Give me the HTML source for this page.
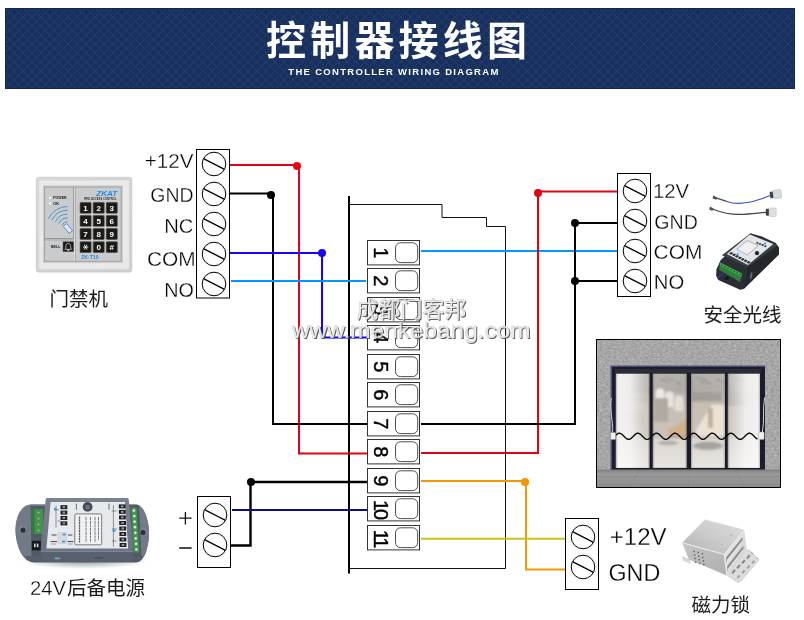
<!DOCTYPE html>
<html><head><meta charset="utf-8"><title>Controller wiring diagram</title>
<style>html,body{margin:0;padding:0;background:#fff}svg{display:block}</style></head>
<body><svg width="804" height="620" viewBox="0 0 804 620">
<g opacity="0.999">
<defs>
<pattern id="hatch" width="9" height="9" patternUnits="userSpaceOnUse" x="5" y="8">
<rect width="9" height="9" fill="#18305d"/>
<path d="M-1 1L1 -1M0 9L9 0M8 10L10 8M-1 8L1 10M0 0L9 9M8 -1L10 1" stroke="#253c6c" stroke-width="1"/>
</pattern>
</defs>
<rect x="5" y="8" width="790" height="81" fill="url(#hatch)"/>
<rect x="5.500" y="8.500" width="789" height="80" fill="none" stroke="#14284f" stroke-width="1"/>
<text x="266" y="54.500" font-family="Liberation Sans, Noto Sans CJK SC, sans-serif" font-size="40" font-weight="bold" fill="#fff" letter-spacing="4.200">控制器接线图</text>
<text x="394" y="75" font-family="Liberation Sans, sans-serif" font-size="9.5" font-weight="bold" fill="#fff" text-anchor="middle" letter-spacing="1.3">THE CONTROLLER WIRING DIAGRAM</text>
<path d="M349 196L349 573.5" fill="none" stroke="#000" stroke-width="2" stroke-linejoin="miter"/>
<path d="M349 204.5L442 204.5L442 217.5L486.5 217.5L486.5 226.5L505.5 226.5L505.5 568.5L349 568.5" fill="none" stroke="#111" stroke-width="1" stroke-linejoin="miter"/>
<path d="M230 165L299 165L299 453.5L367 453.5" fill="none" stroke="#e60012" stroke-width="2" stroke-linejoin="miter"/>
<circle cx="297" cy="166" r="4" fill="#e60012"/>
<path d="M230 193.5L273 193.5L273 424L367 424" fill="none" stroke="#000" stroke-width="2" stroke-linejoin="miter"/>
<circle cx="271" cy="195" r="4" fill="#000"/>
<path d="M230 253L322 253L322 337.5L367 337.5" fill="none" stroke="#1400ff" stroke-width="2" stroke-linejoin="miter"/>
<circle cx="322" cy="253" r="4" fill="#1400ff"/>
<path d="M231 281L366 281" fill="none" stroke="#0096ff" stroke-width="2" stroke-linejoin="miter"/>
<path d="M421 251L617 251" fill="none" stroke="#0096ff" stroke-width="2" stroke-linejoin="miter"/>
<path d="M617 191.5L538 191.5L538 453L421 453" fill="none" stroke="#e60012" stroke-width="2" stroke-linejoin="miter"/>
<circle cx="538" cy="193" r="4" fill="#e60012"/>
<path d="M617 223L575 223" fill="none" stroke="#000" stroke-width="2" stroke-linejoin="miter"/>
<path d="M617 281L575 281" fill="none" stroke="#000" stroke-width="2" stroke-linejoin="miter"/>
<path d="M575 222L575 424L421 424" fill="none" stroke="#000" stroke-width="2" stroke-linejoin="miter"/>
<circle cx="575" cy="223" r="4" fill="#000"/>
<circle cx="575" cy="281" r="4" fill="#000"/>
<path d="M367 482L251 482" fill="none" stroke="#000" stroke-width="2.4" stroke-linejoin="miter"/>
<path d="M250.5 482L250.5 545.5L231 545.5" fill="none" stroke="#000" stroke-width="2.4" stroke-linejoin="miter"/>
<circle cx="251" cy="482" r="4" fill="#000"/>
<path d="M232 510L367 510" fill="none" stroke="#0c0c8c" stroke-width="1.8" stroke-linejoin="miter"/>
<path d="M421 481L526 481L526 569.5L565 569.5" fill="none" stroke="#f39800" stroke-width="2" stroke-linejoin="miter"/>
<circle cx="525" cy="482" r="4" fill="#f39800"/>
<path d="M421 538.8L565 538.8" fill="none" stroke="#c9c31a" stroke-width="2" stroke-linejoin="miter"/>
<rect x="196.500" y="149.500" width="33.000" height="148.500" fill="#fff" stroke="#000" stroke-width="1"/>
<circle cx="214" cy="164" r="11.8" fill="#fff" stroke="#000" stroke-width="1"/>
<path d="M203.5 158.6L224.5 169.4" stroke="#000" stroke-width="1.2"/>
<circle cx="214" cy="194" r="11.8" fill="#fff" stroke="#000" stroke-width="1"/>
<path d="M203.5 188.6L224.5 199.4" stroke="#000" stroke-width="1.2"/>
<circle cx="214" cy="224" r="11.8" fill="#fff" stroke="#000" stroke-width="1"/>
<path d="M203.5 218.6L224.5 229.4" stroke="#000" stroke-width="1.2"/>
<circle cx="214" cy="254" r="11.8" fill="#fff" stroke="#000" stroke-width="1"/>
<path d="M203.5 248.6L224.5 259.4" stroke="#000" stroke-width="1.2"/>
<circle cx="214" cy="284" r="11.8" fill="#fff" stroke="#000" stroke-width="1"/>
<path d="M203.5 278.6L224.5 289.4" stroke="#000" stroke-width="1.2"/>
<rect x="617.500" y="173.500" width="33.000" height="123.000" fill="#fff" stroke="#000" stroke-width="1"/>
<circle cx="635" cy="191" r="11.8" fill="#fff" stroke="#000" stroke-width="1"/>
<path d="M624.5 185.6L645.5 196.4" stroke="#000" stroke-width="1.2"/>
<circle cx="635" cy="221" r="11.8" fill="#fff" stroke="#000" stroke-width="1"/>
<path d="M624.5 215.6L645.5 226.4" stroke="#000" stroke-width="1.2"/>
<circle cx="635" cy="251" r="11.8" fill="#fff" stroke="#000" stroke-width="1"/>
<path d="M624.5 245.6L645.5 256.4" stroke="#000" stroke-width="1.2"/>
<circle cx="635" cy="281" r="11.8" fill="#fff" stroke="#000" stroke-width="1"/>
<path d="M624.5 275.6L645.5 286.4" stroke="#000" stroke-width="1.2"/>
<rect x="197.500" y="496.500" width="33.000" height="71.000" fill="#fff" stroke="#000" stroke-width="1"/>
<circle cx="215" cy="515" r="11.8" fill="#fff" stroke="#000" stroke-width="1"/>
<path d="M204.5 509.6L225.5 520.4" stroke="#000" stroke-width="1.2"/>
<circle cx="215" cy="545" r="11.8" fill="#fff" stroke="#000" stroke-width="1"/>
<path d="M204.5 539.6L225.5 550.4" stroke="#000" stroke-width="1.2"/>
<rect x="565.500" y="518.500" width="33.000" height="71.000" fill="#fff" stroke="#000" stroke-width="1"/>
<circle cx="583" cy="537" r="11.8" fill="#fff" stroke="#000" stroke-width="1"/>
<path d="M572.5 531.6L593.5 542.4" stroke="#000" stroke-width="1.2"/>
<circle cx="583" cy="567" r="11.8" fill="#fff" stroke="#000" stroke-width="1"/>
<path d="M572.5 561.6L593.5 572.4" stroke="#000" stroke-width="1.2"/>
<rect x="367.500" y="240.500" width="52" height="24.400" fill="#fff" stroke="#333" stroke-width="1"/>
<rect x="395.500" y="242.800" width="22.200" height="19.800" rx="5" fill="#fff" stroke="#3a3a3a" stroke-width="0.9"/>
<text transform="translate(380.600 252.900) rotate(90)" x="0" y="6.900" text-anchor="middle" font-family="Liberation Sans, sans-serif" font-size="20" fill="#000" stroke="#000" stroke-width="0.4">1</text>
<rect x="367.500" y="268.500" width="52" height="24.400" fill="#fff" stroke="#333" stroke-width="1"/>
<rect x="395.500" y="270.800" width="22.200" height="19.800" rx="5" fill="#fff" stroke="#3a3a3a" stroke-width="0.9"/>
<text transform="translate(380.600 280.900) rotate(90)" x="0" y="6.900" text-anchor="middle" font-family="Liberation Sans, sans-serif" font-size="20" fill="#000" stroke="#000" stroke-width="0.4">2</text>
<rect x="367.500" y="297.500" width="52" height="24.400" fill="#fff" stroke="#333" stroke-width="1"/>
<rect x="395.500" y="299.800" width="22.200" height="19.800" rx="5" fill="#fff" stroke="#3a3a3a" stroke-width="0.9"/>
<text transform="translate(380.600 309.900) rotate(90)" x="0" y="6.900" text-anchor="middle" font-family="Liberation Sans, sans-serif" font-size="20" fill="#000" stroke="#000" stroke-width="0.4">3</text>
<rect x="367.500" y="325.500" width="52" height="24.400" fill="#fff" stroke="#333" stroke-width="1"/>
<rect x="395.500" y="327.800" width="22.200" height="19.800" rx="5" fill="#fff" stroke="#3a3a3a" stroke-width="0.9"/>
<text transform="translate(380.600 337.900) rotate(90)" x="0" y="6.900" text-anchor="middle" font-family="Liberation Sans, sans-serif" font-size="20" fill="#000" stroke="#000" stroke-width="0.4">4</text>
<rect x="367.500" y="354.500" width="52" height="24.400" fill="#fff" stroke="#333" stroke-width="1"/>
<rect x="395.500" y="356.800" width="22.200" height="19.800" rx="5" fill="#fff" stroke="#3a3a3a" stroke-width="0.9"/>
<text transform="translate(380.600 366.900) rotate(90)" x="0" y="6.900" text-anchor="middle" font-family="Liberation Sans, sans-serif" font-size="20" fill="#000" stroke="#000" stroke-width="0.4">5</text>
<rect x="367.500" y="382.500" width="52" height="24.400" fill="#fff" stroke="#333" stroke-width="1"/>
<rect x="395.500" y="384.800" width="22.200" height="19.800" rx="5" fill="#fff" stroke="#3a3a3a" stroke-width="0.9"/>
<text transform="translate(380.600 394.900) rotate(90)" x="0" y="6.900" text-anchor="middle" font-family="Liberation Sans, sans-serif" font-size="20" fill="#000" stroke="#000" stroke-width="0.4">6</text>
<rect x="367.500" y="411.500" width="52" height="24.400" fill="#fff" stroke="#333" stroke-width="1"/>
<rect x="395.500" y="413.800" width="22.200" height="19.800" rx="5" fill="#fff" stroke="#3a3a3a" stroke-width="0.9"/>
<text transform="translate(380.600 423.900) rotate(90)" x="0" y="6.900" text-anchor="middle" font-family="Liberation Sans, sans-serif" font-size="20" fill="#000" stroke="#000" stroke-width="0.4">7</text>
<rect x="367.500" y="439.500" width="52" height="24.400" fill="#fff" stroke="#333" stroke-width="1"/>
<rect x="395.500" y="441.800" width="22.200" height="19.800" rx="5" fill="#fff" stroke="#3a3a3a" stroke-width="0.9"/>
<text transform="translate(380.600 451.900) rotate(90)" x="0" y="6.900" text-anchor="middle" font-family="Liberation Sans, sans-serif" font-size="20" fill="#000" stroke="#000" stroke-width="0.4">8</text>
<rect x="367.500" y="468.500" width="52" height="24.400" fill="#fff" stroke="#333" stroke-width="1"/>
<rect x="395.500" y="470.800" width="22.200" height="19.800" rx="5" fill="#fff" stroke="#3a3a3a" stroke-width="0.9"/>
<text transform="translate(380.600 480.900) rotate(90)" x="0" y="6.900" text-anchor="middle" font-family="Liberation Sans, sans-serif" font-size="20" fill="#000" stroke="#000" stroke-width="0.4">9</text>
<rect x="367.500" y="496.500" width="52" height="24.400" fill="#fff" stroke="#333" stroke-width="1"/>
<rect x="395.500" y="498.800" width="22.200" height="19.800" rx="5" fill="#fff" stroke="#3a3a3a" stroke-width="0.9"/>
<text transform="translate(380.600 508.900) rotate(90)" x="0" y="6.900" text-anchor="middle" letter-spacing="-2.200" font-family="Liberation Sans, sans-serif" font-size="20" fill="#000" stroke="#000" stroke-width="0.4">10</text>
<rect x="367.500" y="525.500" width="52" height="24.400" fill="#fff" stroke="#333" stroke-width="1"/>
<rect x="395.500" y="527.800" width="22.200" height="19.800" rx="5" fill="#fff" stroke="#3a3a3a" stroke-width="0.9"/>
<text transform="translate(380.600 537.900) rotate(90)" x="0" y="6.900" text-anchor="middle" letter-spacing="-2.200" font-family="Liberation Sans, sans-serif" font-size="20" fill="#000" stroke="#000" stroke-width="0.4">11</text>
<g opacity="0.995">
<text transform="translate(144.790 167.900) scale(1.070 1)" font-family="Liberation Sans, sans-serif" font-size="19.3" letter-spacing="0.0" fill="#000" stroke="#fff" stroke-width="0.3">+12V</text>
<text transform="translate(150.320 202.200) scale(1.008 1)" font-family="Liberation Sans, sans-serif" font-size="19.3" letter-spacing="0.0" fill="#000" stroke="#fff" stroke-width="0.3">GND</text>
<text transform="translate(164.250 232.800) scale(1.045 1)" font-family="Liberation Sans, sans-serif" font-size="19.3" letter-spacing="-0.0" fill="#000" stroke="#fff" stroke-width="0.3">NC</text>
<text transform="translate(146.940 266.200) scale(1.083 1)" font-family="Liberation Sans, sans-serif" font-size="19.3" letter-spacing="0.0" fill="#000" stroke="#fff" stroke-width="0.3">COM</text>
<text transform="translate(164.280 296.700) scale(1.025 1)" font-family="Liberation Sans, sans-serif" font-size="19.3" letter-spacing="0.0" fill="#000" stroke="#fff" stroke-width="0.3">NO</text>
<text transform="translate(653.050 198.100) scale(1.052 1)" font-family="Liberation Sans, sans-serif" font-size="19.3" letter-spacing="-0.0" fill="#000" stroke="#fff" stroke-width="0.3">12V</text>
<text transform="translate(654.310 228.800) scale(1.015 1)" font-family="Liberation Sans, sans-serif" font-size="19.3" letter-spacing="0.0" fill="#000" stroke="#fff" stroke-width="0.3">GND</text>
<text transform="translate(653.540 259.200) scale(1.086 1)" font-family="Liberation Sans, sans-serif" font-size="19.3" letter-spacing="0.0" fill="#000" stroke="#fff" stroke-width="0.3">COM</text>
<text transform="translate(653.840 288.900) scale(1.051 1)" font-family="Liberation Sans, sans-serif" font-size="19.3" letter-spacing="0.0" fill="#000" stroke="#fff" stroke-width="0.3">NO</text>
<text transform="translate(29.880 594.500) scale(1.041 1)" font-family="Liberation Sans, sans-serif" font-size="19.5" letter-spacing="-0.0" fill="#000" stroke="#fff" stroke-width="0.3">24V</text>
<text transform="translate(609.720 545.400) scale(1.013 1)" font-family="Liberation Sans, sans-serif" font-size="23.8" letter-spacing="-0.0" fill="#000" stroke="#fff" stroke-width="0.3">+12V</text>
<text transform="translate(608.430 580.600) scale(0.981 1)" font-family="Liberation Sans, sans-serif" font-size="23.8" letter-spacing="0.0" fill="#000" stroke="#fff" stroke-width="0.3">GND</text>
</g>
<path d="M179.2 518.2H191.6M185.4 512V524.4M179.2 548H191.6" stroke="#111" stroke-width="1.3" fill="none"/>
<text x="49.500" y="305.700" font-family="Liberation Sans, Noto Sans CJK SC, sans-serif" font-size="19.500" fill="#1c1c1c">门禁机</text>
<text x="703.500" y="321.800" font-family="Liberation Sans, Noto Sans CJK SC, sans-serif" font-size="19.500" fill="#1c1c1c">安全光线</text>
<text x="67" y="595.200" font-family="Liberation Sans, Noto Sans CJK SC, sans-serif" font-size="19.500" fill="#1c1c1c">后备电源</text>
<text x="691.500" y="611.800" font-family="Liberation Sans, Noto Sans CJK SC, sans-serif" font-size="19.500" fill="#1c1c1c">磁力锁</text>
<g id="keypad">
<defs><linearGradient id="kp1" x1="0" y1="0" x2="1" y2="1"><stop offset="0" stop-color="#dadada"/><stop offset="1" stop-color="#cdcdcd"/></linearGradient></defs>
<rect x="36.300" y="177.300" width="95.500" height="94.800" rx="2.200" fill="url(#kp1)" stroke="#c9c9c9" stroke-width="0.8"/>
<rect x="38.800" y="180" width="90.600" height="89.400" rx="1" fill="#e9e9e9" stroke="#d0d0d0" stroke-width="0.6"/>
<rect x="43" y="185.200" width="80" height="78" fill="#d2d2d2"/>
<rect x="44.500" y="187" width="76.700" height="74.300" fill="#c9cbcc" stroke="#9b9b9b" stroke-width="0.9"/>
<path d="M73.6 187V238.6H44.6" fill="none" stroke="#8c8c8c" stroke-width="0.9"/>
<path d="M44.6 240H74.2" fill="none" stroke="#9a9a9a" stroke-width="0.7"/>
<path d="M75.3 187V261" fill="none" stroke="#9a9a9a" stroke-width="0.7"/>
<rect x="73.900" y="187.400" width="1.100" height="73.600" fill="#d8d9da"/>
<circle cx="50.1" cy="197.8" r="1.1" fill="#fff"/><circle cx="50.1" cy="203.4" r="1.1" fill="#fff"/>
<text x="53.2" y="199.2" font-family="Liberation Sans, sans-serif" font-size="3.6" font-weight="bold" fill="#222" textLength="13.4" lengthAdjust="spacingAndGlyphs">POWER</text>
<text x="53.2" y="204.8" font-family="Liberation Sans, sans-serif" font-size="3.6" font-weight="bold" fill="#222" textLength="5.8" lengthAdjust="spacingAndGlyphs">OK</text>
<path d="M48.5 218.6A21 21 0 0 1 67.5 206.5" fill="none" stroke="#4d93d6" stroke-width="1"/>
<path d="M51.9 220.2A17.2 17.2 0 0 1 67.5 210.3" fill="none" stroke="#4d93d6" stroke-width="1"/>
<path d="M55.4 221.8A13.4 13.4 0 0 1 67.5 214.1" fill="none" stroke="#4d93d6" stroke-width="1"/>
<path d="M58.8 223.4A9.6 9.6 0 0 1 67.5 217.9" fill="none" stroke="#4d93d6" stroke-width="1"/>
<path d="M62.2 225.0A5.8 5.8 0 0 1 67.5 221.7" fill="none" stroke="#4d93d6" stroke-width="1"/>
<path d="M63.2 226.3L66.6 223.6L72.6 230.6L69.2 233.3Z" fill="#dfe8f0" stroke="#3f86cf" stroke-width="0.9"/>
<text x="51" y="248.1" font-family="Liberation Sans, sans-serif" font-size="3.4" font-weight="bold" fill="#222" textLength="9.4" lengthAdjust="spacingAndGlyphs">BELL</text>
<rect x="63" y="241.800" width="10.600" height="9.800" fill="#1d1b18" stroke="#5a534a" stroke-width="0.5"/>
<path d="M68.3 243.4c-1.6 0-2.4 1.3-2.4 3v1.6l-1 1.3h6.8l-1-1.3v-1.6c0-1.7-.8-3-2.4-3zM67.4 249.8a.9.9 0 0 0 1.8 0z" fill="none" stroke="#fff" stroke-width="0.6"/>
<text x="96.2" y="195.9" font-family="Liberation Sans, sans-serif" font-size="7.4" font-weight="bold" font-style="italic" fill="#1f8ae0" textLength="21" lengthAdjust="spacingAndGlyphs">ZKAT</text>
<text x="83.9" y="200.1" font-family="Liberation Sans, sans-serif" font-size="2.6" font-weight="bold" fill="#333" textLength="32.5" lengthAdjust="spacingAndGlyphs">RFID ACCESS CONTROL</text>
<rect x="80.100" y="202.400" width="11" height="10.800" rx="0.600" fill="#1b1916" stroke="#4e473f" stroke-width="0.6"/>
<text x="85.6" y="210.6" font-family="Liberation Sans, sans-serif" font-size="8" font-weight="bold" fill="#fff" text-anchor="middle">1</text>
<rect x="93.200" y="202.400" width="11" height="10.800" rx="0.600" fill="#1b1916" stroke="#4e473f" stroke-width="0.6"/>
<text x="98.7" y="210.6" font-family="Liberation Sans, sans-serif" font-size="8" font-weight="bold" fill="#fff" text-anchor="middle">2</text>
<rect x="106.300" y="202.400" width="11" height="10.800" rx="0.600" fill="#1b1916" stroke="#4e473f" stroke-width="0.6"/>
<text x="111.8" y="210.6" font-family="Liberation Sans, sans-serif" font-size="8" font-weight="bold" fill="#fff" text-anchor="middle">3</text>
<rect x="80.100" y="215.500" width="11" height="10.800" rx="0.600" fill="#1b1916" stroke="#4e473f" stroke-width="0.6"/>
<text x="85.6" y="223.7" font-family="Liberation Sans, sans-serif" font-size="8" font-weight="bold" fill="#fff" text-anchor="middle">4</text>
<rect x="93.200" y="215.500" width="11" height="10.800" rx="0.600" fill="#1b1916" stroke="#4e473f" stroke-width="0.6"/>
<text x="98.7" y="223.7" font-family="Liberation Sans, sans-serif" font-size="8" font-weight="bold" fill="#fff" text-anchor="middle">5</text>
<rect x="106.300" y="215.500" width="11" height="10.800" rx="0.600" fill="#1b1916" stroke="#4e473f" stroke-width="0.6"/>
<text x="111.8" y="223.7" font-family="Liberation Sans, sans-serif" font-size="8" font-weight="bold" fill="#fff" text-anchor="middle">6</text>
<rect x="80.100" y="228.600" width="11" height="10.800" rx="0.600" fill="#1b1916" stroke="#4e473f" stroke-width="0.6"/>
<text x="85.6" y="236.8" font-family="Liberation Sans, sans-serif" font-size="8" font-weight="bold" fill="#fff" text-anchor="middle">7</text>
<rect x="93.200" y="228.600" width="11" height="10.800" rx="0.600" fill="#1b1916" stroke="#4e473f" stroke-width="0.6"/>
<text x="98.7" y="236.8" font-family="Liberation Sans, sans-serif" font-size="8" font-weight="bold" fill="#fff" text-anchor="middle">8</text>
<rect x="106.300" y="228.600" width="11" height="10.800" rx="0.600" fill="#1b1916" stroke="#4e473f" stroke-width="0.6"/>
<text x="111.8" y="236.8" font-family="Liberation Sans, sans-serif" font-size="8" font-weight="bold" fill="#fff" text-anchor="middle">9</text>
<rect x="80.100" y="241.700" width="11" height="10.800" rx="0.600" fill="#1b1916" stroke="#4e473f" stroke-width="0.6"/>
<path d="M83.0 247.1H88.2M84.2 244.7L87.0 249.5M87.0 244.7L84.2 249.5" stroke="#fff" stroke-width="0.9"/>
<rect x="93.200" y="241.700" width="11" height="10.800" rx="0.600" fill="#1b1916" stroke="#4e473f" stroke-width="0.6"/>
<text x="98.7" y="249.9" font-family="Liberation Sans, sans-serif" font-size="8" font-weight="bold" fill="#fff" text-anchor="middle">0</text>
<rect x="106.300" y="241.700" width="11" height="10.800" rx="0.600" fill="#1b1916" stroke="#4e473f" stroke-width="0.6"/>
<text x="111.8" y="249.9" font-family="Liberation Sans, sans-serif" font-size="8" font-weight="bold" fill="#fff" text-anchor="middle">#</text>
<text x="81.2" y="259.4" font-family="Liberation Sans, sans-serif" font-size="5" font-weight="bold" fill="#2a8be0" textLength="17.5" lengthAdjust="spacingAndGlyphs">ZK-T10</text>
</g>
<g id="beam">
<path d="M713.2 195.6L717.4 197.6L716.4 199.8L712.6 198.4Z" fill="#555"/>
<path d="M716.6 198.2L726 201.2" stroke="#4a4a4a" stroke-width="1.3" fill="none"/>
<path d="M726 201.2C736 205 752 203.5 770 195.6" stroke="#3a56c8" stroke-width="1.1" fill="none"/>
<rect x="770" y="191.600" width="3.600" height="6.600" rx="1" fill="#3c3f44" transform="rotate(-8 772 195)"/>
<rect x="773.200" y="189.800" width="8.200" height="8.600" rx="1.300" fill="#d9dcde" stroke="#b5b8bb" stroke-width="0.5" transform="rotate(-8 777 194)"/>
<path d="M710 206.6L713.6 208.6L712.4 211L709.2 209.6Z" fill="#555"/>
<path d="M712.8 209.2C722 212.6 730 214.6 740 214.4C750 214.2 758 213 766 212.4" stroke="#444" stroke-width="1.2" fill="none"/>
<rect x="765.800" y="208.800" width="3.600" height="7" rx="1" fill="#3c3f44"/>
<rect x="769" y="208" width="7.200" height="8.600" rx="1.300" fill="#dcdfe1" stroke="#b5b8bb" stroke-width="0.5"/>
<path d="M716.5 269.2L720.7 260.1L750.4 233.2L761.9 236.5L775.8 243.1L779.0 248.0L778.8 254.6L743.7 289.1L740.1 289.7L718.3 280.0L716.1 275.8Z" fill="#2b2e34" />
<path d="M721.9 255.2L750.4 233.5L777.6 245.6L747.3 267.3Z" fill="#3a3e45" />
<path d="M747.3 267.3L777.6 245.6L779.0 248.0L778.8 254.6L743.7 289.1L746.7 275.8Z" fill="#24272c" />
<path d="M726.8 254.0L749.8 234.4L773.3 244.1L747.9 264.9Z" fill="#e3e6e8" />
<path d="M736.7 249.2L747.3 240.5L758.2 245.6L747.3 255.0Z" fill="#eef0f1" stroke="#555" stroke-width="0.4"/>
<path d="M729.0 253.5L731.1 251.9L733.3 252.9L731.1 254.8Z" fill="#2a2c30" />
<path d="M731.9 255.1L734.0 253.4L736.2 254.5L734.0 256.3Z" fill="#2a2c30" />
<path d="M734.8 256.6L736.9 254.9L739.1 256.0L736.9 257.8Z" fill="#2a2c30" />
<path d="M737.7 258.1L739.8 256.4L742.0 257.5L739.8 259.3Z" fill="#2a2c30" />
<path d="M740.6 259.6L742.7 257.9L744.9 259.0L742.7 260.8Z" fill="#2a2c30" />
<path d="M743.5 261.1L745.6 259.4L747.8 260.5L745.6 262.3Z" fill="#2a2c30" />
<path d="M746.4 262.6L748.5 260.9L750.7 262.0L748.5 263.8Z" fill="#2a2c30" />
<path d="M755.8 243.1L757.3 241.9L758.9 242.7L757.5 244.0Z" fill="#2a2c30" />
<path d="M758.5 244.2L759.9 243.0L761.6 243.7L760.2 245.1Z" fill="#2a2c30" />
<path d="M761.1 245.3L762.6 244.1L764.3 244.8L762.8 246.2Z" fill="#2a2c30" />
<path d="M763.8 246.4L765.2 245.2L766.9 245.9L765.5 247.3Z" fill="#2a2c30" />
<circle cx="765.1" cy="243.5" r="1" fill="#2a8cf0"/>
<circle cx="737.7" cy="254.0" r="1" fill="#2a8cf0"/>
<circle cx="757.0" cy="253.1" r="2.2" fill="#26282c"/>
<path d="M720.1 262.5L741.9 273.6L740.1 281.9L719.3 270.0Z" fill="#2f7f3a" />
<path d="M720.1 262.5L741.9 273.6L741.3 276.8L719.6 265.4Z" fill="#46a052" />
<ellipse cx="721.9" cy="265.2" rx="0.9" ry="0.7" fill="#1f5a2a"/>
<ellipse cx="725.0" cy="266.7" rx="0.9" ry="0.7" fill="#1f5a2a"/>
<ellipse cx="728.0" cy="268.3" rx="0.9" ry="0.7" fill="#1f5a2a"/>
<ellipse cx="731.0" cy="269.8" rx="0.9" ry="0.7" fill="#1f5a2a"/>
<ellipse cx="734.0" cy="271.4" rx="0.9" ry="0.7" fill="#1f5a2a"/>
<ellipse cx="737.1" cy="272.9" rx="0.9" ry="0.7" fill="#1f5a2a"/>
<ellipse cx="740.1" cy="274.4" rx="0.9" ry="0.7" fill="#1f5a2a"/>
<path d="M723.7 272.8L717.1 278.2" stroke="#2744c0" stroke-width="1"/>
<ellipse cx="726.8" cy="278.2" rx="2.2" ry="1.7" fill="#15171a"/>
<path d="M750.4 273.4L752.4 271.6L752.2 277.6L750.0 279.7Z" fill="#5a6a8a" />
</g>
<g id="door">
<defs>
<filter id="noise" x="0" y="0" width="100%" height="100%" color-interpolation-filters="sRGB"><feTurbulence type="fractalNoise" baseFrequency="0.35 0.6" numOctaves="2" seed="3" result="n"/><feColorMatrix type="matrix" values="0.3 0 0 0 0.5  0.3 0 0 0 0.5  0.3 0 0 0 0.5  0 0 0 0 1"/><feComposite in2="SourceGraphic" operator="in"/></filter>
<pattern id="brick" width="9" height="4.2" patternUnits="userSpaceOnUse"><rect width="9" height="4.200" fill="#acacac"/><rect y="0" width="9" height="0.800" fill="#9c9c9c"/><rect y="2" width="9" height="0.800" fill="#b6b6b6"/></pattern>
<linearGradient id="flr" x1="0" y1="0" x2="0" y2="1"><stop offset="0" stop-color="#7e7e7e"/><stop offset="0.25" stop-color="#9b9b9b"/><stop offset="1" stop-color="#8c8c8c"/></linearGradient>
<linearGradient id="g1" x1="0" x2="1"><stop offset="0" stop-color="#cfcac6"/><stop offset="0.25" stop-color="#efeeed"/><stop offset="0.8" stop-color="#eceae8"/><stop offset="1" stop-color="#d2cbc4"/></linearGradient>
<linearGradient id="g2" x1="0" x2="1"><stop offset="0" stop-color="#c9c1b8"/><stop offset="0.5" stop-color="#bdb3a8"/><stop offset="1" stop-color="#c3b8ab"/></linearGradient>
<linearGradient id="g3" x1="0" x2="1"><stop offset="0" stop-color="#c1b4a4"/><stop offset="0.5" stop-color="#cfc4b6"/><stop offset="1" stop-color="#d4cdc6"/></linearGradient>
<linearGradient id="g4" x1="0" x2="1"><stop offset="0" stop-color="#d6d0cb"/><stop offset="0.4" stop-color="#eeedec"/><stop offset="1" stop-color="#e6e4e3"/></linearGradient>
<linearGradient id="gv" x1="0" y1="0" x2="0" y2="1"><stop offset="0" stop-color="#fff" stop-opacity="0.1"/><stop offset="0.3" stop-color="#fff" stop-opacity="0"/><stop offset="0.7" stop-color="#fff" stop-opacity="0.05"/><stop offset="1" stop-color="#fff" stop-opacity="0.4"/></linearGradient>
</defs>
<rect x="596.500" y="339.500" width="184" height="148" fill="url(#brick)"/>
<rect x="596.500" y="339.500" width="184" height="148" fill="#888" filter="url(#noise)" opacity="0.75"/>
<rect x="596.500" y="469.500" width="184" height="18" fill="url(#flr)"/>
<path d="M596.5 476.5H780.5M640 469.5L628 487.5M690 469.5L688 487.5M735 469.5L746 487.5" stroke="#858585" stroke-width="0.5" fill="none"/>
<rect x="610.800" y="365.800" width="154.200" height="103.800" fill="#1c1d2b"/>
<rect x="610.800" y="365.800" width="154.200" height="1.200" fill="#454a78"/>
<rect x="610.800" y="365.800" width="1.300" height="103.800" fill="#4a5080"/>
<rect x="615" y="369" width="146" height="4.600" fill="#2c2c34"/>
<clipPath id="dclip"><rect x="615.900" y="373.800" width="144.100" height="94"/></clipPath>
<filter id="dblur" x="-5%" y="-5%" width="110%" height="110%"><feGaussianBlur stdDeviation="1.1"/></filter>
<g clip-path="url(#dclip)"><g filter="url(#dblur)">
<rect x="605" y="365" width="166" height="112" fill="#b5a99b"/>
<rect x="605" y="365" width="166" height="28.800" fill="#8e8983"/>
<rect x="605" y="393" width="166" height="10" fill="#a39c94"/>
<path d="M660 379l9 3M665 376.500l8 4M676 382l6 3M695 377l12 2.500M700 381.500l12 2M716 380l9 2M735 378l10 3" stroke="#3d3d40" stroke-width="0.9"/>
<ellipse cx="660" cy="392" rx="4.2" ry="3.6" fill="#ece6dd"/><ellipse cx="669.500" cy="395" rx="4.200" ry="3.600" fill="#e6dfd5"/><ellipse cx="679" cy="399" rx="4.200" ry="3.600" fill="#e0d8cd"/>
<rect x="655.800" y="392" width="8.400" height="12" fill="#ece6dd"/><rect x="665.300" y="395" width="8.400" height="12" fill="#e6dfd5"/><rect x="674.800" y="399" width="8.400" height="12" fill="#e0d8cd"/>
<rect x="654" y="398" width="14" height="24" fill="#8f867c"/>
<rect x="692" y="392" width="30" height="9" fill="#7d766e"/>
<rect x="728" y="392" width="32" height="14" fill="#8c857d"/>
<path d="M696 430L712 405H728V436H696Z" fill="#e9dcc6"/>
<rect x="708" y="408" width="5" height="20" fill="#a98f70"/>
<path d="M668 430L691 416V436H668Z" fill="#c2935a"/>
<path d="M668 436H692V440H668Z" fill="#8a6a48"/>
<rect x="622" y="412" width="22" height="14" fill="#a79a8c"/>
<rect x="734" y="410" width="22" height="14" fill="#b1a69b"/>
<rect x="605" y="438" width="166" height="40" fill="#cfc8c0"/>
<ellipse cx="708" cy="446" rx="15" ry="4.2" fill="#6e6a67"/>
<ellipse cx="668" cy="443" rx="10" ry="2.6" fill="#8c8681"/>
</g></g>
<linearGradient id="veil" x1="0" x2="1"><stop offset="0" stop-color="#f6f5f4" stop-opacity="0.97"/><stop offset="0.1" stop-color="#f4f3f2" stop-opacity="0.92"/><stop offset="0.2" stop-color="#eeeceb" stop-opacity="0.5"/><stop offset="0.27" stop-color="#eeeceb" stop-opacity="0.35"/><stop offset="0.5" stop-color="#eeeceb" stop-opacity="0.3"/><stop offset="0.73" stop-color="#eeeceb" stop-opacity="0.35"/><stop offset="0.8" stop-color="#eeeceb" stop-opacity="0.5"/><stop offset="0.9" stop-color="#f4f3f2" stop-opacity="0.92"/><stop offset="1" stop-color="#f6f5f4" stop-opacity="0.97"/></linearGradient>
<rect x="615.900" y="373.800" width="144.100" height="94" fill="url(#veil)"/>
<rect x="615.900" y="373.800" width="144.100" height="94" fill="url(#gv)"/>
<rect x="615.900" y="373.800" width="1.400" height="94" fill="#6b655f" opacity="0.35"/><rect x="648.1" y="373.800" width="1.400" height="94" fill="#6b655f" opacity="0.300"/>
<rect x="652.800" y="373.800" width="1.400" height="94" fill="#6b655f" opacity="0.35"/><rect x="685.3" y="373.800" width="1.400" height="94" fill="#6b655f" opacity="0.300"/>
<rect x="691" y="373.800" width="1.400" height="94" fill="#6b655f" opacity="0.35"/><rect x="723.6" y="373.800" width="1.400" height="94" fill="#6b655f" opacity="0.300"/>
<rect x="727.800" y="373.800" width="1.400" height="94" fill="#6b655f" opacity="0.35"/><rect x="758.6" y="373.800" width="1.400" height="94" fill="#6b655f" opacity="0.300"/>
<rect x="649.500" y="373" width="3.300" height="96" fill="#1a1b28"/>
<rect x="686.700" y="373" width="4.300" height="96" fill="#1a1b28"/>
<rect x="725" y="373" width="2.800" height="96" fill="#1a1b28"/>
<path d="M613.4 437.6L614.6 436.4L615.8 435.1L617.0 434.1L618.2 433.4L619.4 433.2L620.6 433.5L621.8 434.2L623.0 435.3L624.2 436.6L625.4 437.8L626.6 438.7L627.8 439.3L629.0 439.4L630.2 439.0L631.4 438.1L632.6 437.0L633.8 435.7L635.0 434.6L636.2 433.7L637.4 433.2L638.6 433.3L639.8 433.8L641.0 434.8L642.2 435.9L643.4 437.2L644.6 438.3L645.8 439.1L647.0 439.4L648.2 439.2L649.4 438.6L650.6 437.6L651.8 436.4L653.0 435.1L654.2 434.1L655.4 433.4L656.6 433.2L657.8 433.5L659.0 434.2L660.2 435.3L661.4 436.6L662.6 437.8L663.8 438.7L665.0 439.3L666.2 439.4L667.4 439.0L668.6 438.1L669.8 437.0L671.0 435.7L672.2 434.6L673.4 433.7L674.6 433.2L675.8 433.3L677.0 433.8L678.2 434.8L679.4 435.9L680.6 437.2L681.8 438.3L683.0 439.1L684.2 439.4L685.4 439.2L686.6 438.6L687.8 437.6L689.0 436.4L690.2 435.1L691.4 434.1L692.6 433.4L693.8 433.2L695.0 433.5L696.2 434.2L697.4 435.3L698.6 436.6L699.8 437.8L701.0 438.7L702.2 439.3L703.4 439.4L704.6 439.0L705.8 438.1L707.0 437.0L708.2 435.7L709.4 434.6L710.6 433.7L711.8 433.2L713.0 433.3L714.2 433.8L715.4 434.8L716.6 435.9L717.8 437.2L719.0 438.3L720.2 439.1L721.4 439.4L722.6 439.2L723.8 438.6L725.0 437.6L726.2 436.4L727.4 435.1L728.6 434.1L729.8 433.4L731.0 433.2L732.2 433.5L733.4 434.2L734.6 435.3L735.8 436.6L737.0 437.8L738.2 438.7L739.4 439.3L740.6 439.4L741.8 439.0L743.0 438.1L744.2 437.0L745.4 435.7L746.6 434.6L747.8 433.7L749.0 433.2L750.2 433.3L751.4 433.8L752.6 434.8L753.8 435.9L755.0 437.2L756.2 438.3L757.4 439.1" fill="none" stroke="#0a0a0a" stroke-width="1.4" stroke-linejoin="round"/>
<rect x="610.600" y="432.600" width="5" height="7" rx="0.800" fill="#f1f1f1" stroke="#9a9a9a" stroke-width="0.4"/>
<rect x="758.600" y="432" width="5.600" height="7.400" rx="0.800" fill="#f1f1f1" stroke="#9a9a9a" stroke-width="0.4"/>
<path d="M611.4 398C609 410 613.5 420 612.6 432.5" stroke="#d8d8d8" stroke-width="0.9" fill="none"/>
<path d="M764.6 397.5C762.5 410 764.6 420 762.4 432" stroke="#e4e4e4" stroke-width="0.9" fill="none"/>
<rect x="596.500" y="339.500" width="184" height="148" fill="none" stroke="#000" stroke-width="1"/>
</g>
<g id="psu">
<defs>
<radialGradient id="psh" cx="0.5" cy="0.5" r="0.5"><stop offset="0" stop-color="#000" stop-opacity="0.4"/><stop offset="0.6" stop-color="#000" stop-opacity="0.16"/><stop offset="1" stop-color="#000" stop-opacity="0"/></radialGradient>
<linearGradient id="pbody" x1="0" y1="0" x2="0" y2="1"><stop offset="0" stop-color="#7b8391"/><stop offset="1" stop-color="#6a7281"/></linearGradient>
<linearGradient id="pbase" x1="0" y1="0" x2="0" y2="1"><stop offset="0" stop-color="#747c8a"/><stop offset="0.75" stop-color="#666e7c"/><stop offset="1" stop-color="#525a67"/></linearGradient>
</defs>
<ellipse cx="84" cy="561" rx="64" ry="8" fill="url(#psh)"/>
<path d="M33 504.5H136C140 505 143 508 145.5 514C148.5 522 149.6 530 148.8 538C148 548 145.5 556 141.5 560C139.5 562 137 562.6 134 562.6H34C29 562 25 559.5 21.5 554C17 546 15.2 536 15.6 528C16 518 20 509 26 505.8C28 504.8 30.5 504.5 33 504.5Z" fill="url(#pbase)"/>
<path d="M33 504.5H136C140 505 143 508 145.5 514C148.5 522 149.6 530 148.8 538C148 546 146 552 143.5 556H22.8C17.6 547 15.2 536 15.6 528C16 518 20 509 26 505.8C28 504.8 30.5 504.5 33 504.5Z" fill="#727a88"/>
<path d="M30.6 506H46V556.5H31.5Z" fill="#525a68"/>
<path d="M129 505H139L141.6 557.5H132Z" fill="#525a68"/>
<circle cx="22.8" cy="529.8" r="3.6" fill="#868e9c"/><circle cx="23" cy="530.2" r="2.6" fill="#2c3038"/>
<circle cx="143.2" cy="532" r="3.6" fill="#868e9c"/><circle cx="143" cy="532.4" r="2.6" fill="#2c3038"/>
<rect x="31.800" y="509.200" width="11" height="24.600" rx="0.800" fill="#3f9a49"/>
<rect x="31.800" y="509.200" width="3" height="24.600" fill="#2f7f3a"/>
<circle cx="38.4" cy="512.6" r="1.7" fill="#9aa39a" stroke="#2c6d35" stroke-width="0.5"/>
<circle cx="38.4" cy="518.5" r="1.7" fill="#9aa39a" stroke="#2c6d35" stroke-width="0.5"/>
<circle cx="38.4" cy="524.4" r="1.7" fill="#9aa39a" stroke="#2c6d35" stroke-width="0.5"/>
<circle cx="38.4" cy="530.3" r="1.7" fill="#9aa39a" stroke="#2c6d35" stroke-width="0.5"/>
<rect x="31.800" y="540.800" width="9" height="9.600" fill="#17181b"/><rect x="34" y="543.600" width="1.600" height="3.600" fill="#d8d8d8"/><rect x="36.800" y="543.600" width="1.600" height="3.600" fill="#d8d8d8"/>
<path d="M131.2 507.4H136.4L139.4 552.6H133.8Z" fill="#3f9a49"/>
<circle cx="133.9" cy="510.6" r="1.35" fill="#dfe8df"/>
<circle cx="134.3" cy="516.1" r="1.35" fill="#dfe8df"/>
<circle cx="134.6" cy="521.7" r="1.35" fill="#dfe8df"/>
<circle cx="135.0" cy="527.2" r="1.35" fill="#dfe8df"/>
<circle cx="135.3" cy="532.8" r="1.35" fill="#dfe8df"/>
<circle cx="135.7" cy="538.4" r="1.35" fill="#dfe8df"/>
<circle cx="136.1" cy="543.9" r="1.35" fill="#dfe8df"/>
<circle cx="136.4" cy="549.5" r="1.35" fill="#dfe8df"/>
<path d="M40.8 551.5H133.4V558.2C133.4 560.4 132 561.6 130 561.6H44.2C42.2 561.6 40.8 560.4 40.8 558.2Z" fill="#59616e"/>
<path d="M47.6 498H126.8C128 498 128.7 498.6 128.8 499.8L133.4 549.6C133.5 551 132.8 551.8 131.4 551.8H42.8C41.4 551.8 40.7 551 40.8 549.6L45.6 499.8C45.7 498.6 46.4 498 47.6 498Z" fill="url(#pbody)"/>
<path d="M40.9 551.3H133.3" stroke="#8d95a3" stroke-width="0.7"/>
<path d="M50.6 502H125L128.2 548.4H46.4Z" fill="#e7eaec"/>
<rect x="74.800" y="513.900" width="26.900" height="30.900" rx="1.200" fill="#f1f2f3" stroke="#4a4a4a" stroke-width="0.7"/>
<path d="M79.5 516.5V542.5" stroke="#444" stroke-width="1.3" stroke-dasharray="2.2 0.5" opacity="0.85"/>
<path d="M86 517V542.5" stroke="#444" stroke-width="0.8" stroke-dasharray="3 0.6 4 0.6 2 0.6" opacity="0.85"/>
<path d="M90.5 517V542.5" stroke="#444" stroke-width="0.8" stroke-dasharray="3 0.6 4 0.6 2 0.6" opacity="0.85"/>
<path d="M95 517V542.5" stroke="#444" stroke-width="0.8" stroke-dasharray="3 0.6 4 0.6 2 0.6" opacity="0.85"/>
<path d="M98.5 517V540" stroke="#444" stroke-width="0.8" stroke-dasharray="3 0.6 4 0.6 2 0.6" opacity="0.85"/>
<circle cx="87.6" cy="506.9" r="4.9" fill="#434a56"/><circle cx="87.6" cy="507.2" r="2.4" fill="#6b7380"/>
<rect x="60.500" y="505.200" width="6.800" height="4" fill="#1e1f22"/>
<rect x="62.600" y="506.200" width="2.600" height="2" fill="#c9c9c9" opacity="0.7"/>
<rect x="60.500" y="510.600" width="6.800" height="4" fill="#1e1f22"/>
<rect x="62.600" y="511.600" width="2.600" height="2" fill="#c9c9c9" opacity="0.7"/>
<rect x="60.500" y="516.000" width="6.800" height="4" fill="#1e1f22"/>
<rect x="62.600" y="517.000" width="2.600" height="2" fill="#c9c9c9" opacity="0.7"/>
<rect x="60.500" y="521.400" width="6.800" height="4" fill="#1e1f22"/>
<rect x="62.600" y="522.400" width="2.600" height="2" fill="#c9c9c9" opacity="0.7"/>
<path d="M56 505.5V527.6M54.2 509.8H59M57.6 521H60.4" stroke="#333" stroke-width="0.5"/>
<rect x="54" y="508.200" width="2.800" height="2" fill="#27a0e8"/>
<rect x="118.800" y="504.400" width="6.800" height="4" fill="#1e1f22"/>
<rect x="120.900" y="505.400" width="2.600" height="2" fill="#c9c9c9" opacity="0.7"/>
<rect x="118.900" y="509.900" width="6.800" height="4" fill="#1e1f22"/>
<rect x="121.000" y="510.900" width="2.600" height="2" fill="#c9c9c9" opacity="0.7"/>
<rect x="119.000" y="515.400" width="6.800" height="4" fill="#1e1f22"/>
<rect x="121.100" y="516.400" width="2.600" height="2" fill="#c9c9c9" opacity="0.7"/>
<rect x="119.200" y="521.000" width="6.800" height="4" fill="#1e1f22"/>
<rect x="121.300" y="522.000" width="2.600" height="2" fill="#c9c9c9" opacity="0.7"/>
<rect x="119.300" y="526.500" width="6.800" height="4" fill="#1e1f22"/>
<rect x="121.400" y="527.500" width="2.600" height="2" fill="#c9c9c9" opacity="0.7"/>
<rect x="119.400" y="532.000" width="6.800" height="4" fill="#1e1f22"/>
<rect x="121.500" y="533.000" width="2.600" height="2" fill="#c9c9c9" opacity="0.7"/>
<rect x="119.500" y="537.500" width="6.800" height="4" fill="#1e1f22"/>
<rect x="121.600" y="538.500" width="2.600" height="2" fill="#c9c9c9" opacity="0.7"/>
<rect x="119.600" y="543.000" width="6.800" height="4" fill="#1e1f22"/>
<rect x="121.700" y="544.000" width="2.600" height="2" fill="#c9c9c9" opacity="0.7"/>
<path d="M113.4 505V546.6M111.6 511H116.6M111.8 529H117M112 541H116.6" stroke="#333" stroke-width="0.5"/>
<rect x="112.400" y="529.600" width="3.200" height="2" fill="#27a0e8"/>
<path d="M76.4 503.8V510M109 503.8V510" stroke="#444" stroke-width="1.1" stroke-dasharray="1 0.5"/>
<rect x="58" y="532.600" width="8.600" height="11" fill="#d9dcdf" stroke="#b9bcc0" stroke-width="0.4"/>
<rect x="62.600" y="533.600" width="3.200" height="1.800" fill="#27a0e8"/><rect x="62" y="540.600" width="3.200" height="1.800" fill="#27a0e8"/>
<path d="M51.6 535H56.6M68 535H72.4M50.6 541.6H57M67.4 541.6H73.4" stroke="#333" stroke-width="0.9"/>
<path d="M51 544H56.4M68 544H73" stroke="#555" stroke-width="0.5"/>
<rect x="54.600" y="557.400" width="5.400" height="1.800" rx="0.800" fill="#7ab6e6" opacity="0.8"/>
<rect x="94" y="557" width="9" height="1.600" fill="#474e5a"/>
</g>
<g id="lock">
<defs>
<linearGradient id="lk1" x1="0" y1="1" x2="1" y2="0"><stop offset="0" stop-color="#b4b4b4"/><stop offset="0.6" stop-color="#cfcfcf"/><stop offset="1" stop-color="#dedede"/></linearGradient>
<linearGradient id="lk2" x1="0" y1="0" x2="0.6" y2="1"><stop offset="0" stop-color="#c6c6c6"/><stop offset="1" stop-color="#b2b2b2"/></linearGradient>
<linearGradient id="lk3" x1="0" y1="0" x2="1" y2="1"><stop offset="0" stop-color="#f0f0f0"/><stop offset="1" stop-color="#c9c9c9"/></linearGradient>
</defs>
<path d="M726.9 575.2L737.9 582.7L741.1 581.0L759.2 559.7L750.1 550.7L746.3 549.4Z" fill="#dcdcdc" stroke="#bdbdbd" stroke-width="0.5"/>
<clipPath id="lkc"><path d="M726.9 575.2L737.9 582.7L741.1 581.0L759.2 559.7L750.1 550.7L746.3 549.4Z"/></clipPath><g clip-path="url(#lkc)">
<path d="M731.4 572.6L734.3 569.2L735.8 570.5L733.0 573.9Z" fill="#858585" />
<path d="M736.6 577.5L738.9 574.7L740.5 576.0L738.1 578.8Z" fill="#a2a2a2" />
<path d="M736.3 567.7L739.2 564.3L740.7 565.6L737.9 569.0Z" fill="#858585" />
<path d="M741.5 572.6L743.8 569.8L745.4 571.1L743.0 573.9Z" fill="#a2a2a2" />
<path d="M741.2 562.8L744.1 559.4L745.6 560.7L742.8 564.1Z" fill="#858585" />
<path d="M746.4 567.7L748.7 564.9L750.3 566.2L747.9 569.0Z" fill="#a2a2a2" />
<path d="M746.1 557.9L749.0 554.5L750.5 555.8L747.7 559.2Z" fill="#858585" />
<path d="M751.3 562.8L753.6 560.0L755.2 561.3L752.8 564.1Z" fill="#a2a2a2" />
<path d="M751.0 553.0L753.9 549.6L755.4 550.9L752.6 554.3Z" fill="#858585" />
<path d="M756.2 557.9L758.5 555.1L760.1 556.4L757.7 559.2Z" fill="#a2a2a2" />
</g>
<path d="M682.4 556.5L683.1 560.3L690.2 563.6L689.5 559.4Z" fill="#d9d9d9" stroke="#c4c4c4" stroke-width="0.4"/>
<path d="M682.2 542.7L724.3 554.5L726.9 575.4L688.9 559.4Z" fill="url(#lk2)" />
<path d="M724.3 554.5L744.3 530.1L746.5 549.1L726.9 575.4Z" fill="url(#lk3)" />
<path d="M726.0 557.4L742.4 537.3L742.9 541.9L726.5 562.5Z" fill="#8d8d8d" />
<path d="M726.8 560.0L742.7 540.1L742.9 541.9L727.1 562.5Z" fill="#e9e9e9" />
<path d="M727.1 566.2L743.3 545.8L743.8 550.7L727.6 571.6Z" fill="#8d8d8d" />
<path d="M727.7 569.0L743.6 548.6L743.8 550.7L728.0 571.6Z" fill="#e6e6e6" />
<path d="M682.2 542.7L705.0 519.7L744.3 530.1L724.3 554.5Z" fill="url(#lk1)" />
<path d="M682.2 542.7L724.3 554.5L744.3 530.1" fill="none" stroke="#efefef" stroke-width="0.9"/>
<path d="M724.3 554.5L726.9 575.4" fill="none" stroke="#ededed" stroke-width="0.9"/>
<path d="M682.2 542.7L705.0 519.7L744.3 530.1" fill="none" stroke="#d6d6d6" stroke-width="0.6"/>
<circle cx="731.2" cy="534.9" r="1.5" fill="#b0b0b0" stroke="#e2e2e2" stroke-width="0.5"/>
<circle cx="721.8" cy="544.6" r="1.5" fill="#b0b0b0" stroke="#e2e2e2" stroke-width="0.5"/>
<circle cx="694.1" cy="551.3" r="0.9" fill="#6f6f6f"/>
<circle cx="698.2" cy="552.5" r="0.9" fill="#6f6f6f"/>
<circle cx="702.3" cy="553.6" r="0.9" fill="#6f6f6f"/>
<circle cx="694.6" cy="554.9" r="0.9" fill="#6f6f6f"/>
<circle cx="698.7" cy="556.1" r="0.9" fill="#6f6f6f"/>
<circle cx="702.8" cy="557.3" r="0.9" fill="#6f6f6f"/>
<circle cx="695.1" cy="558.5" r="0.9" fill="#6f6f6f"/>
<circle cx="699.2" cy="559.7" r="0.9" fill="#6f6f6f"/>
<circle cx="703.3" cy="560.9" r="0.9" fill="#6f6f6f"/>
<circle cx="695.6" cy="562.2" r="0.9" fill="#6f6f6f"/>
<circle cx="699.7" cy="563.3" r="0.9" fill="#6f6f6f"/>
<circle cx="703.8" cy="564.5" r="0.9" fill="#6f6f6f"/>
</g>
<g opacity="0.92"><text x="357.600" y="318.300" font-family="Liberation Sans, Noto Sans CJK SC, sans-serif" font-size="22" fill="#484848">成都门客邦</text><text x="356.500" y="317.200" font-family="Liberation Sans, Noto Sans CJK SC, sans-serif" font-size="22" fill="#e8e8e8" stroke="#8a8a8a" stroke-width="0.35" paint-order="stroke">成都门客邦</text>
<text x="293.1" y="338.8" font-family="Liberation Sans, sans-serif" font-size="22.7" textLength="238.6" lengthAdjust="spacingAndGlyphs" fill="#484848">www.menkebang.com</text><text x="292" y="337.7" font-family="Liberation Sans, sans-serif" font-size="22.7" textLength="238.6" lengthAdjust="spacingAndGlyphs" fill="#e8e8e8" stroke="#8a8a8a" stroke-width="0.3" paint-order="stroke">www.menkebang.com</text></g>
</g>
</svg></body></html>
